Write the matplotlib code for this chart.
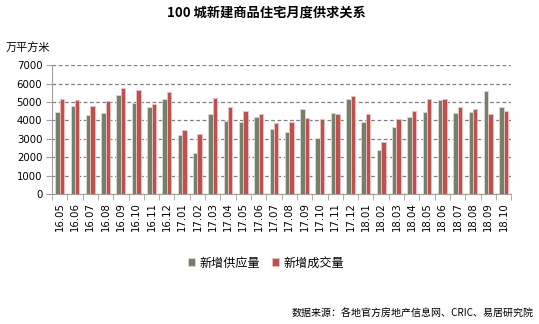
import numpy as np
import matplotlib.pyplot as plt

plt.rcParams['font.family'] = ['Noto Sans CJK SC', 'DejaVu Sans']

# months 16.05 - 18.10
months = ['16.05', '16.06', '16.07', '16.08', '16.09', '16.10', '16.11', '16.12',
          '17.01', '17.02', '17.03', '17.04', '17.05', '17.06', '17.07', '17.08',
          '17.09', '17.10', '17.11', '17.12', '18.01', '18.02', '18.03', '18.04',
          '18.05', '18.06', '18.07', '18.08', '18.09', '18.10']

# new supply (万平方米)
supply = [4470, 4800, 4290, 4400, 5380, 4950, 4710, 5160,
          3180, 2240, 4360, 3960, 3890, 4180, 3550, 3350,
          4600, 3070, 4400, 5160, 3890, 2400, 3640, 4180,
          4470, 5090, 4400, 4470, 5600, 4730]

# new transactions (万平方米)
deals = [5150, 5090, 4800, 5040, 5750, 5670, 4910, 5550,
         3490, 3240, 5220, 4730, 4510, 4330, 3840, 3890,
         4110, 4050, 4330, 5310, 4330, 2800, 4070, 4510,
         5160, 5160, 4710, 4600, 4360, 4510]

green = '#767F69'
red = '#C0504D'

fig = plt.figure(figsize=(5.39, 3.24), dpi=100)
ax = fig.add_axes([0.0965, 0.401, 0.852, 0.398])

x = np.arange(len(months))
w = 0.29
ax.bar(x - w / 2, supply, w, color=green, edgecolor='#D9DCD4', linewidth=0.6,
       label='新增供应量', zorder=3)
ax.bar(x + w / 2, deals, w, color=red, edgecolor='#EBC2C1', linewidth=0.6,
       label='新增成交量', zorder=3)

ax.set_xlim(-0.5, len(months) - 0.5)
ax.set_ylim(0, 7000)
ax.set_yticks(range(0, 7001, 1000))
ax.yaxis.grid(True, linestyle=(0, (3, 2)), color='#808080', linewidth=0.9, zorder=0)

ax.set_xticks(x)
ax.set_xticklabels(months, rotation=90, fontsize=7.3, family='DejaVu Sans')
ax.tick_params(axis='x', length=0, pad=6)
ax.set_xticks(np.arange(-0.5, len(months), 1), minor=True)
ax.tick_params(axis='x', which='minor', length=4, color='#A0A0A0')
ax.tick_params(axis='y', labelsize=7.3, length=4, color='#A0A0A0', pad=3)
for lab in ax.get_yticklabels():
    lab.set_family('DejaVu Sans')

for s in ['top', 'right']:
    ax.spines[s].set_visible(False)
ax.spines['left'].set_color('#A0A0A0')
ax.spines['bottom'].set_color('#A0A0A0')

fig.text(0.495, 0.962, '100 城新建商品住宅月度供求关系', ha='center', va='center',
         fontsize=9.5, fontweight='bold')
fig.text(0.01, 0.855, '万平方米', ha='left', va='center', fontsize=8)

ax.legend(loc='center', bbox_to_anchor=(0.493, 0.188), bbox_transform=fig.transFigure,
          ncol=2, frameon=False, fontsize=8.7, handlelength=0.6, handleheight=0.6,
          handletextpad=0.35, columnspacing=1.0)

fig.text(0.99, 0.031, '数据来源：各地官方房地产信息网、CRIC、易居研究院', ha='right',
         va='center', fontsize=7.2)

plt.savefig('out.png', dpi=100)
